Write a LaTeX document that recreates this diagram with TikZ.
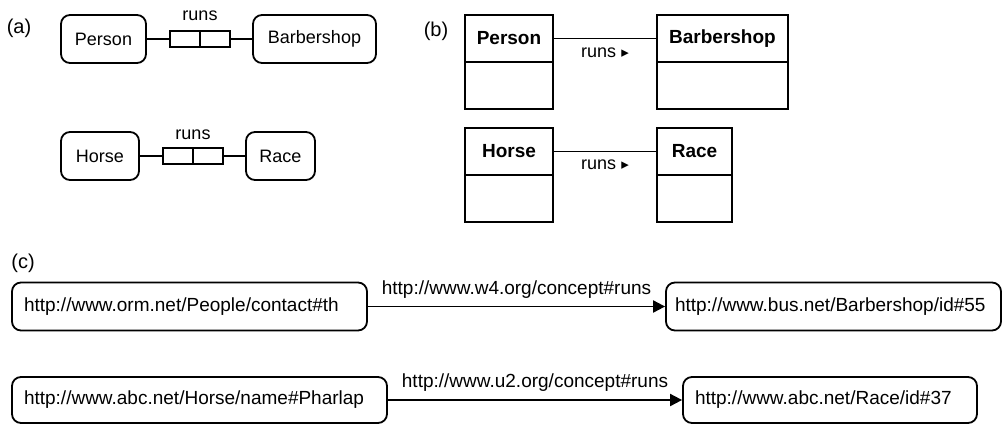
\documentclass[tikz,border=0pt]{standalone}
\usepackage{fontspec}
\setmainfont{Liberation Sans}
\newfontfamily\symfont{DejaVu Sans}
\usetikzlibrary{arrows.meta, positioning, calc}
\tikzset{
	partlbl/.style ={font=\fontsize{20}{24}\selectfont},
	objtype/.style ={rectangle, rounded corners=9pt, draw=black, line width=1.8pt, minimum height=48pt, inner sep=0pt, font=\fontsize{18}{21}\selectfont},
	rolebox/.style ={rectangle, draw=black, line width=1.5pt, minimum width=30pt, minimum height=16pt, inner sep=0pt, outer sep=0pt},
	conn/.style    ={line width=1.9pt},
	% class diagram styles
	clshead/.style ={rectangle, draw=black, line width=2.1pt, minimum height=47pt, inner sep=0pt, outer sep=0pt, font=\fontsize{19}{22}\selectfont\bfseries},
	clsbody/.style ={rectangle, draw=black, line width=2.1pt, minimum height=47pt, inner sep=0pt, outer sep=0pt},
	assoc/.style   ={line width=1.9pt},
	% rdf graph styles
	uri/.style     ={rectangle, rounded corners=9pt, draw=black, line width=1.8pt, minimum height=48pt, inner xsep=12pt, align=left},
	rdfarrow/.style={-{Triangle[length=12pt, width=12pt]}, line width=1.9pt},
}

\begin{document}
\begin{tikzpicture}[x=1pt, y=-1pt, font=\fontsize{19}{22}\selectfont]
	\useasboundingbox (0,0) rectangle (1003,424);
	% (a) fact types
	\node[partlbl] (labA) at (19,28) {(a)};
	\node[objtype, minimum width=85pt] (personA) at (103.5,39) {Person};
	\node[rolebox] (roleA1) at (185,39) {};
	\node[rolebox, right=0pt of roleA1] (roleA2) {};
	\node[objtype, minimum width=123pt] (barberA) at (314.5,39) {Barbershop};
	\draw[conn] (personA) -- (roleA1);
	\draw[conn] (roleA2) -- (barberA);
	\node[font=\fontsize{18}{21}\selectfont] (runsA1) at (200,16) {runs};
	\node[objtype, minimum width=78pt] (horseA) at (100,156) {Horse};
	\node[rolebox] (roleB1) at (178,156) {};
	\node[rolebox, right=0pt of roleB1] (roleB2) {};
	\node[objtype, minimum width=69pt] (raceA) at (280.5,156) {Race};
	\draw[conn] (horseA) -- (roleB1);
	\draw[conn] (roleB2) -- (raceA);
	\node[font=\fontsize{18}{21}\selectfont] (runsA2) at (193,135) {runs};
	% (b) classes
	\node[partlbl] (labB) at (436,31) {(b)};
	\node[clshead, minimum width=88pt] (personB) at (509,38.5) {Person};
	\node[clsbody, minimum width=88pt, below=0pt of personB] (personBb) {};
	\node[clshead, minimum width=131pt] (barberB) at (722.5,38.5) {Barbershop};
	\node[clsbody, minimum width=131pt, below=0pt of barberB] (barberBb) {};
	\draw[assoc] (personB) -- (barberB);
	\node[font=\fontsize{18}{21}\selectfont] (runsB1) at (605,53) {runs {\symfont\fontsize{15}{17}\selectfont ▸}};
	\node[clshead, minimum width=88pt] (horseB) at (509,151.5) {Horse};
	\node[clsbody, minimum width=88pt, below=0pt of horseB] (horseBb) {};
	\node[clshead, minimum width=75pt] (raceB) at (694.5,151.5) {Race};
	\node[clsbody, minimum width=75pt, below=0pt of raceB] (raceBb) {};
	\draw[assoc] (horseB) -- (raceB);
	\node[font=\fontsize{18}{21}\selectfont] (runsB2) at (605,165) {runs {\symfont\fontsize{15}{17}\selectfont ▸}};
	% (c) triples
	\node[partlbl] (labC) at (23,263) {(c)};
	\node[uri, text width=331pt] (subj1) at (189.5,306.5) {http://www.orm.net/People/contact\#th};
	\node[uri, text width=317pt, inner xsep=9pt] (obj1) at (833.5,306.5) {http://www.bus.net/Barbershop/id\#55};
	\draw[rdfarrow] (subj1) -- node[above=4pt] (pred1) {http://www.w4.org/concept\#runs} (obj1);
	\node[uri, text width=351pt, minimum height=46pt] (subj2) at (199.5,400) {http://www.abc.net/Horse/name\#Pharlap};
	\node[uri, text width=270pt, minimum height=46pt] (obj2) at (830,400) {http://www.abc.net/Race/id\#37};
	\draw[rdfarrow] (subj2) -- node[above=4pt] (pred2) {http://www.u2.org/concept\#runs} (obj2);
\end{tikzpicture}
\end{document}
